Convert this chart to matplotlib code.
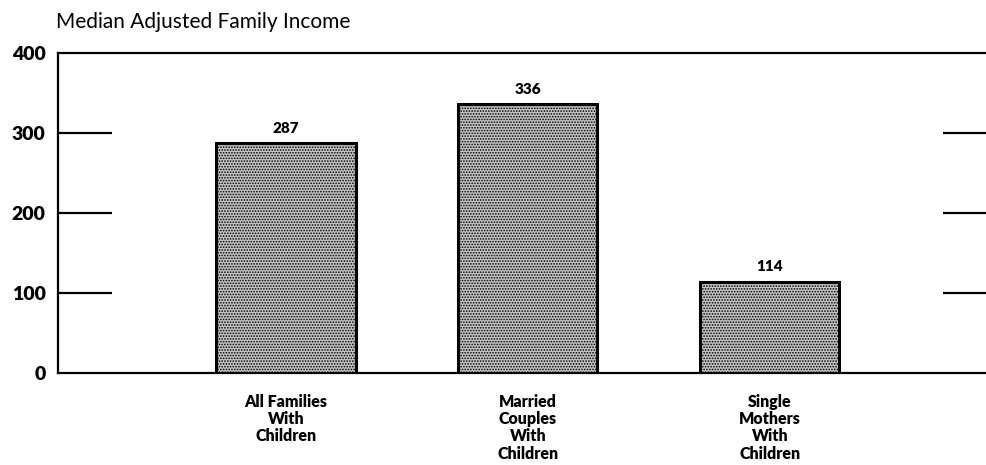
import matplotlib
matplotlib.use("Agg")
import matplotlib.pyplot as plt

# data
categories = ["All Families\nWith\nChildren",
              "Married\nCouples\nWith\nChildren",
              "Single\nMothers\nWith\nChildren"]
values = [287, 336, 114]
yticks = [0, 100, 200, 300, 400]

plt.rcParams['font.family'] = ['Lato', 'DejaVu Sans']
plt.rcParams['hatch.linewidth'] = 0.8

fig = plt.figure(figsize=(9.86, 4.65), dpi=100)
ax = fig.add_axes([0.0588, 0.198, 0.9412, 0.688])

x = list(range(len(values)))
bars = ax.bar(x, values, width=0.575, facecolor='#c4c4c4', edgecolor='black',
              hatch='......', linewidth=2.2, zorder=3)

xmin, xmax = -0.942, 2.893
ax.set_xlim(xmin, xmax)
ax.set_ylim(0, 400)

# short grid stubs at left and right edges
for y in yticks[1:-1]:
    ax.hlines(y, xmin, -0.72, color='black', linewidth=1.6, zorder=2)
    ax.hlines(y, 2.715, xmax, color='black', linewidth=1.6, zorder=2)

for xi, v in zip(x, values):
    ax.annotate(str(v), (xi, v), xytext=(0, 6), textcoords='offset points',
                ha='center', va='bottom', fontsize=11, fontweight='heavy')

ax.set_yticks(yticks)
ax.set_yticklabels([str(t) for t in yticks], fontsize=14, fontweight='heavy')
ax.tick_params(axis='y', length=0, pad=9)
ax.set_xticks(x)
ax.set_xticklabels(categories, fontsize=11.5, fontweight='heavy', linespacing=1.1)
ax.tick_params(axis='x', length=0, pad=15)

for s in ['left', 'top', 'bottom']:
    ax.spines[s].set_linewidth(1.6)
ax.spines['right'].set_visible(False)

fig.text(0.057, 0.953, "Median Adjusted Family Income", fontsize=15,
         ha='left', va='center')

fig.savefig("out.png", dpi=100)
